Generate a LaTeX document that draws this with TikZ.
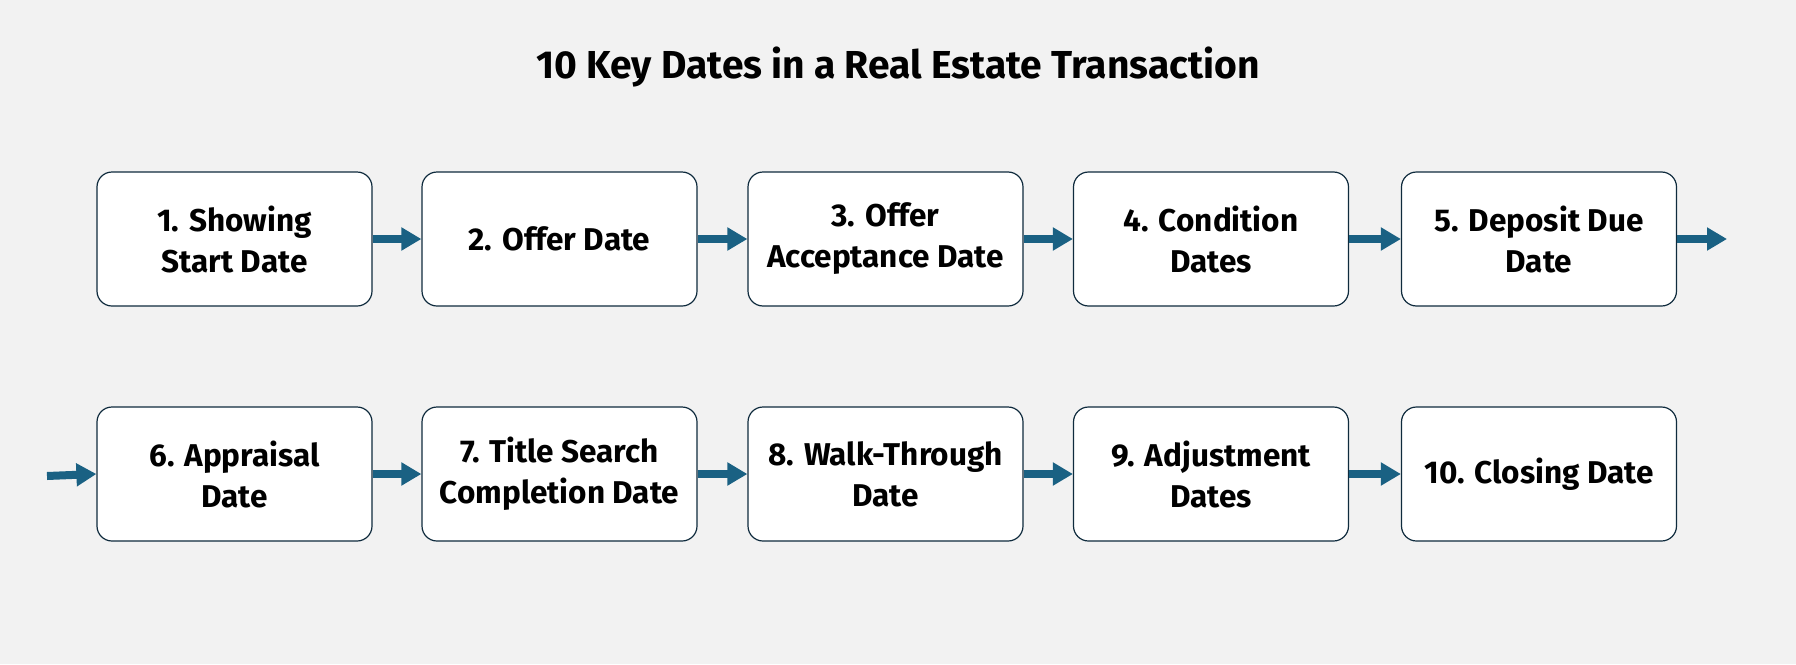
\documentclass[tikz,border=0pt]{standalone}
\usepackage{fontspec}
\setmainfont{Fira Sans}
\usetikzlibrary{arrows.meta}
\definecolor{bg}{HTML}{F2F2F2}
\definecolor{edge}{HTML}{0F2B3D}
\definecolor{arr}{HTML}{1A6183}
\tikzset{
  datebox/.style={draw=edge, line width=1.2pt, fill=white, rounded corners=15pt,
    minimum width=275pt, minimum height=134pt, align=center, inner sep=0pt,
    font=\fontsize{31.5}{41}\selectfont\bfseries},
  flow/.style={draw=arr, line width=8pt, -{Triangle[length=20pt,width=22pt]}, shorten >=0pt},
  titletext/.style={font=\fontsize{39}{44}\selectfont\bfseries}
}
\begin{document}
\begin{tikzpicture}[x=1pt,y=-1pt]
\fill[bg] (0,0) rectangle (1796,664);
\useasboundingbox (0,0) rectangle (1796,664);
\node[titletext] (title) at (898,67) {10 Key Dates in a Real Estate Transaction};
\node[datebox] (b1) at (234.5,239) {1. Showing\\Start Date};
\node[datebox] (b2) at (559.5,239) {2. Offer Date};
\node[datebox] (b3) at (885.5,239) {3. Offer\\Acceptance Date};
\node[datebox] (b4) at (1211,239) {4. Condition\\Dates};
\node[datebox] (b5) at (1539,239) {5. Deposit Due\\Date};
\node[datebox] (b6) at (234.5,474) {6. Appraisal\\Date};
\node[datebox] (b7) at (559.5,474) {7. Title Search\\Completion Date};
\node[datebox] (b8) at (885.5,474) {8. Walk-Through\\Date};
\node[datebox] (b9) at (1211,474) {9. Adjustment\\Dates};
\node[datebox] (b10) at (1539,474) {10. Closing Date};
\coordinate (out5) at (1727,239);
\coordinate (in6) at (47,476);
\draw[flow] (b1.east) -- (b2.west);
\draw[flow] (b2.east) -- (b3.west);
\draw[flow] (b3.east) -- (b4.west);
\draw[flow] (b4.east) -- (b5.west);
\draw[flow] (b5.east) -- (out5);
\draw[flow] (in6) -- (b6.west);
\draw[flow] (b6.east) -- (b7.west);
\draw[flow] (b7.east) -- (b8.west);
\draw[flow] (b8.east) -- (b9.west);
\draw[flow] (b9.east) -- (b10.west);
\end{tikzpicture}
\end{document}
